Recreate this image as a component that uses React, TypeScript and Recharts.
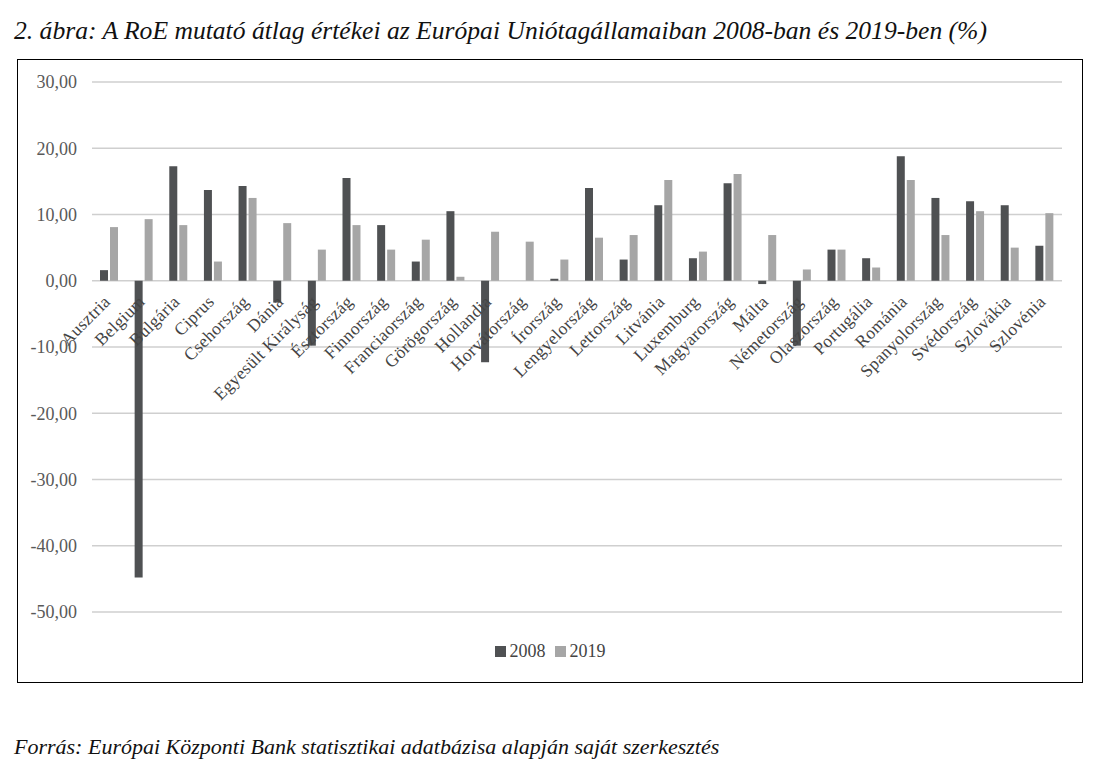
import React from "react";
import { BarChart, Bar, XAxis, YAxis, CartesianGrid, Legend } from "recharts";

const countries = [
  "Ausztria", "Belgium", "Bulgária", "Ciprus", "Csehország", "Dánia",
  "Egyesült Királyság", "Észtország", "Finnország", "Franciaország",
  "Görögország", "Hollandia", "Horvátország", "Írország", "Lengyelország",
  "Lettország", "Litvánia", "Luxemburg", "Magyarország", "Málta",
  "Németország", "Olaszország", "Portugália", "Románia", "Spanyolország",
  "Svédország", "Szlovákia", "Szlovénia",
];

const roe2008 = [
  1.6, -44.8, 17.3, 13.7, 14.3, -3.3, -9.8, 15.5, 8.4, 2.9, 10.5, -12.3, 0.0,
  0.3, 14.0, 3.2, 11.4, 3.4, 14.7, -0.5, -9.8, 4.7, 3.4, 18.8, 12.5, 12.0,
  11.4, 5.3,
];

const roe2019 = [
  8.1, 9.3, 8.4, 2.9, 12.5, 8.7, 4.7, 8.4, 4.7, 6.2, 0.6, 7.4, 5.9, 3.2, 6.5,
  6.9, 15.2, 4.4, 16.1, 6.9, 1.7, 4.7, 2.0, 15.2, 6.9, 10.5, 5.0, 10.2,
];

const yTicks = [-50, -40, -30, -20, -10, 0, 10, 20, 30];

const DARK = "#4f5153";
const LIGHT = "#a6a6a6";
const TEXT = "#595959";
const LABEL = "#444444";
const FONT = "Times New Roman, Liberation Serif, Tinos, DejaVu Serif, serif";

const CHART_W = 1064;
const CHART_H = 622;
const PLOT_TOP = 22;
const PLOT_BOTTOM = 70;
const PLOT_H = CHART_H - PLOT_TOP - PLOT_BOTTOM;
const Y_MIN = yTicks[0];
const Y_MAX = yTicks[yTicks.length - 1];
const ZERO_Y = PLOT_TOP + (PLOT_H * Y_MAX) / (Y_MAX - Y_MIN);

const data = countries.map((name, i) => ({
  name,
  v2008: roe2008[i],
  v2019: roe2019[i],
}));

const fmt = (v: number) => v.toFixed(2).replace(".", ",");

// labels sit on the zero line, like in the Excel original
const CountryTick = (props: any) => {
  const { x, payload } = props;
  const ax = x + 2;
  const ay = ZERO_Y + 22;
  return (
    <text
      x={ax}
      y={ay}
      transform={`rotate(-45, ${ax}, ${ay})`}
      textAnchor="end"
      fill={LABEL}
      fontSize={17.5}
      letterSpacing={0.3}
      fontFamily={FONT}
    >
      {payload.value}
    </text>
  );
};

const LegendContent = () => (
  <div
    style={{
      display: "flex",
      justifyContent: "center",
      alignItems: "center",
      fontFamily: FONT,
      fontSize: 18,
      color: LABEL,
      height: 20,
    }}
  >
    <span style={{ width: 11, height: 11, background: DARK, marginRight: 4 }} />
    <span style={{ marginRight: 9 }}>2008</span>
    <span style={{ width: 11, height: 11, background: LIGHT, marginRight: 4 }} />
    <span>2019</span>
  </div>
);

export default function App() {
  return (
    <div
      style={{
        position: "relative",
        width: 1089,
        height: 752,
        fontFamily: FONT,
        color: "#111",
      }}
    >
      <div
        style={{
          position: "absolute",
          left: 6,
          top: 8,
          fontSize: 25.6,
          fontStyle: "italic",
          whiteSpace: "nowrap",
        }}
      >
        2. ábra: A RoE mutató átlag értékei az Európai Uniótagállamaiban 2008-ban és 2019-ben (%)
      </div>
      <div
        style={{
          position: "absolute",
          left: 9,
          top: 51,
          width: CHART_W + 2,
          height: CHART_H + 2,
          border: "1px solid #000",
          boxSizing: "border-box",
        }}
      >
        <BarChart
          width={CHART_W}
          height={CHART_H}
          data={data}
          margin={{ top: PLOT_TOP, right: 20, left: 0, bottom: 21 }}
          barGap={2}
        >
          <CartesianGrid vertical={false} stroke="#cfcfcf" strokeWidth={1.5} />
          <XAxis
            dataKey="name"
            interval={0}
            tickLine={false}
            axisLine={false}
            height={29}
            tick={<CountryTick />}
          />
          <YAxis
            width={74}
            domain={[Y_MIN, Y_MAX]}
            ticks={yTicks}
            tickFormatter={fmt}
            tickSize={0}
            tickMargin={15}
            axisLine={false}
            tick={{ fill: TEXT, fontSize: 18, fontFamily: FONT }}
          />
          <Legend
            verticalAlign="bottom"
            content={<LegendContent />}
            wrapperStyle={{ left: 0, width: CHART_W }}
          />
          <Bar dataKey="v2008" fill={DARK} barSize={8} isAnimationActive={false} />
          <Bar dataKey="v2019" fill={LIGHT} barSize={8} isAnimationActive={false} />
        </BarChart>
      </div>
      <div
        style={{
          position: "absolute",
          left: 6,
          top: 726,
          fontSize: 22,
          fontStyle: "italic",
          whiteSpace: "nowrap",
        }}
      >
        Forrás: Európai Központi Bank statisztikai adatbázisa alapján saját szerkesztés
      </div>
    </div>
  );
}
